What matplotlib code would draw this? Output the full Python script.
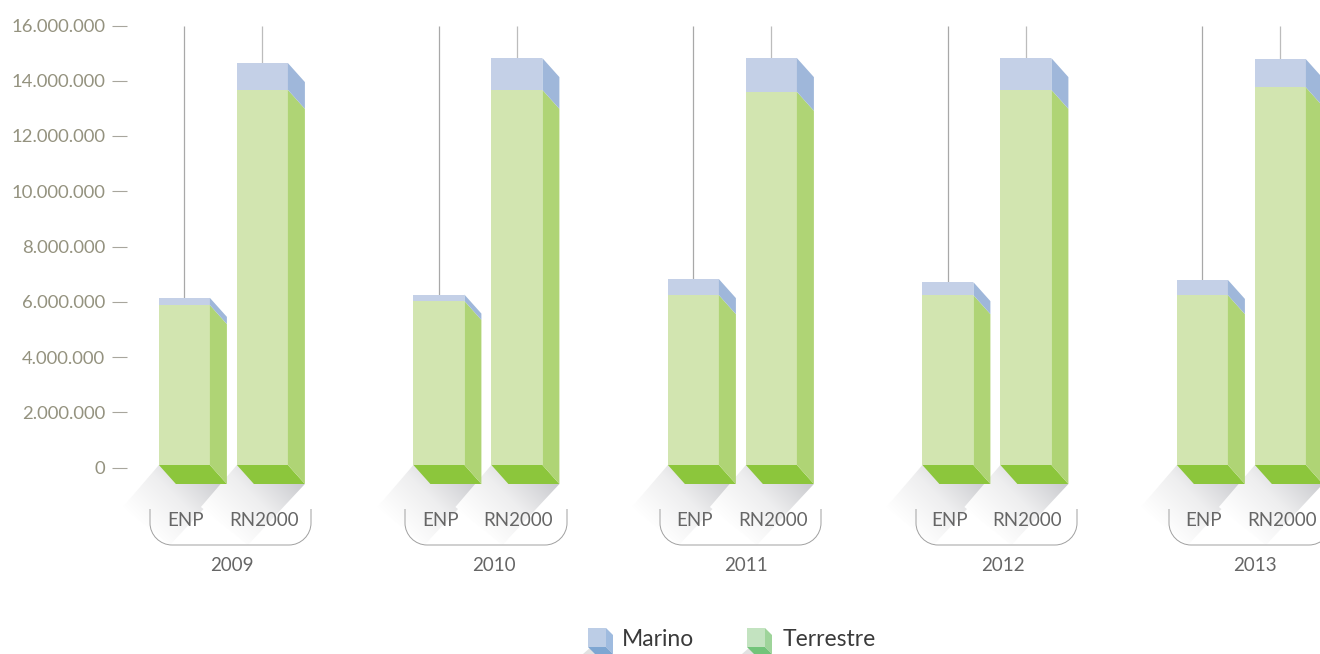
#!/usr/bin/python
import numpy as np
import matplotlib
matplotlib.use('agg')
import matplotlib.pyplot as plt
from matplotlib.patches import Polygon, PathPatch
from matplotlib.path import Path
from matplotlib.colors import LinearSegmentedColormap
from matplotlib.ticker import FuncFormatter

plt.rcParams['font.family'] = ['Lato', 'DejaVu Sans']

#values
years = ['2009', '2010', '2011', '2012', '2013']
bar_names = ['ENP', 'RN2000']
enp_terrestre = [5880000, 6030000, 6240000, 6240000, 6240000]
enp_marino = [260000, 230000, 580000, 470000, 550000]
rn_terrestre = [13670000, 13670000, 13600000, 13670000, 13760000]
rn_marino = [970000, 1150000, 1220000, 1150000, 1020000]
yticks = [0, 2000000, 4000000, 6000000, 8000000, 10000000, 12000000, 14000000, 16000000]

W, H = 1320, 654
GROUP_PX = 254.5
BAR_PX = 51
GAP_PX = 78
DEPTH_X = 17
DEPTH_Y = 19
LEFT, TOP, ZERO = 127, 25.5, 467.5
FIRST = 158.9
BASE_PX = 2.5

fig = plt.figure(figsize=(W/100.0, H/100.0), dpi=100)
ax = fig.add_axes([LEFT/W, 1-ZERO/H, 1-LEFT/W, (ZERO-TOP)/H])
ax.set_xlim((LEFT-FIRST)/GROUP_PX, (W-FIRST)/GROUP_PX)
ax.set_ylim(0, 16000000)
for s in ax.spines.values():
    s.set_visible(False)
ax.patch.set_visible(False)
ax.set_xticks([])
ax.set_yticks(yticks)
ax.yaxis.set_major_formatter(FuncFormatter(lambda v, pos: '{:,.0f}'.format(v).replace(',', '.')))
ax.tick_params(axis='y', length=10.8, width=0.8, color='#a8a69d', pad=5,
               labelsize=13.3, labelcolor='#94927f')

#overlay in pixel coords for the decorations
ov = fig.add_axes([0, 0, 1, 1], zorder=-1)
ov.set_xlim(0, W)
ov.set_ylim(H, 0)
ov.axis('off')
top = fig.add_axes([0, 0, 1, 1], zorder=5)
top.set_xlim(0, W)
top.set_ylim(H, 0)
top.axis('off')
top.patch.set_visible(False)

shadow_cmap = LinearSegmentedColormap.from_list('sh', ['#ffffff', '#eeeeef', '#c9cace'])
px_per_val = (ZERO-TOP)/16000000.0
dx_val = DEPTH_X/GROUP_PX
dy_val = DEPTH_Y/px_per_val
base = BASE_PX/px_per_val
bar_w = BAR_PX/GROUP_PX


def draw_shadow(x0):
    pts = [(x0, 465), (x0+68, 484), (x0+11, 545), (x0-36, 507)]
    xx, yy = np.meshgrid(np.arange(x0-40, x0+72), np.arange(462, 548))
    grad = np.clip((xx-yy-x0+543.0)/127.0, 0, 1)
    im = ov.imshow(grad, cmap=shadow_cmap, vmin=0, vmax=1, aspect='auto', zorder=1,
                   extent=(x0-40, x0+72, 548, 462), interpolation='bilinear')
    poly = Polygon(pts, closed=True, transform=ov.transData, facecolor='none', edgecolor='none')
    ov.add_patch(poly)
    im.set_clip_path(poly)
    ov.set_xlim(0, W)
    ov.set_ylim(H, 0)


def draw_bar(x, terr, mar):
    total = terr+mar
    ax.add_patch(Polygon([(x, base), (x+bar_w, base), (x+bar_w+dx_val, base-dy_val), (x+dx_val, base-dy_val)],
                         facecolor='#8cc63c', edgecolor='none', clip_on=False, zorder=3))
    ax.bar(x, terr-base, bottom=base, width=bar_w, align='edge', color='#d2e5b0', zorder=3, clip_on=False)
    ax.bar(x, mar, bottom=terr, width=bar_w, align='edge', color='#c4d0e7', zorder=3, clip_on=False)
    xr = x+bar_w
    ax.add_patch(Polygon([(xr, base), (xr+dx_val, base-dy_val), (xr+dx_val, terr-dy_val), (xr, terr)],
                         facecolor='#afd475', edgecolor='none', clip_on=False, zorder=3))
    ax.add_patch(Polygon([(xr, terr), (xr+dx_val, terr-dy_val), (xr+dx_val, total-dy_val), (xr, total)],
                         facecolor='#9fb7da', edgecolor='none', clip_on=False, zorder=3))


def draw_bracket(x0, x1):
    verts = [(x0, 509), (x0, 523), (x0, 535), (x0+10, 545), (x0+22, 545),
             (x1-22, 545), (x1-10, 545), (x1, 535), (x1, 523), (x1, 509)]
    codes = [Path.MOVETO, Path.LINETO, Path.CURVE4, Path.CURVE4, Path.CURVE4,
             Path.LINETO, Path.CURVE4, Path.CURVE4, Path.CURVE4, Path.LINETO]
    top.add_patch(PathPatch(Path(verts, codes), facecolor='none', edgecolor='#a0a0a0', lw=0.7))


#the brackets and year labels are not evenly spaced in the original
bracket_px = [(150, 311), (405, 567), (660, 821), (916, 1077), (1169, 1331)]
year_px = [232, 493.5, 745.5, 1003, 1255]

for i, year in enumerate(years):
    x_enp = i
    x_rn = i+GAP_PX/GROUP_PX
    for xb, terr, mar, grey in [(x_enp, enp_terrestre[i], enp_marino[i], '#a8a8a8'),
                                (x_rn, rn_terrestre[i], rn_marino[i], '#bcbcbc')]:
        ax.plot([xb+bar_w/2]*2, [terr+mar, 15980000], color=grey, lw=0.9, zorder=2,
                solid_capstyle='butt')
        draw_shadow(FIRST+xb*GROUP_PX)
        draw_bar(xb, terr, mar)
        top.text(FIRST+xb*GROUP_PX+BAR_PX/2+1.5, 520, bar_names[0] if xb == x_enp else bar_names[1],
                 ha='center', va='center', fontsize=13.5, color='#666666')
    draw_bracket(*bracket_px[i])
    top.text(year_px[i], 565.5, year, ha='center', va='center', fontsize=13.5, color='#666666')


def legend_item(x0, front, side, bottom, label, xt):
    top.add_patch(Polygon([(x0-5, 654), (x0+3, 647), (x0+25, 647), (x0+25, 654)], facecolor='#e2e2e2', edgecolor='none'))
    top.add_patch(Polygon([(x0, 647), (x0+18, 647), (x0+25, 654), (x0+7, 654)], facecolor=bottom, edgecolor='none', zorder=3))
    top.add_patch(Polygon([(x0, 628), (x0+18, 628), (x0+18, 647), (x0, 647)], facecolor=front, edgecolor='none', zorder=3))
    top.add_patch(Polygon([(x0+18, 628), (x0+25, 635), (x0+25, 654), (x0+18, 647)], facecolor=side, edgecolor='none', zorder=3))
    top.text(xt, 639.5, label, ha='left', va='center', fontsize=16.5, color='#3a3a3a')


legend_item(588, '#bccde6', '#9fbbdf', '#7ea6d2', 'Marino', 622)
legend_item(747, '#c3e3c0', '#9ed49a', '#72c47a', 'Terrestre', 783)

fig.savefig('out.png', dpi=100)
plt.close(fig)
